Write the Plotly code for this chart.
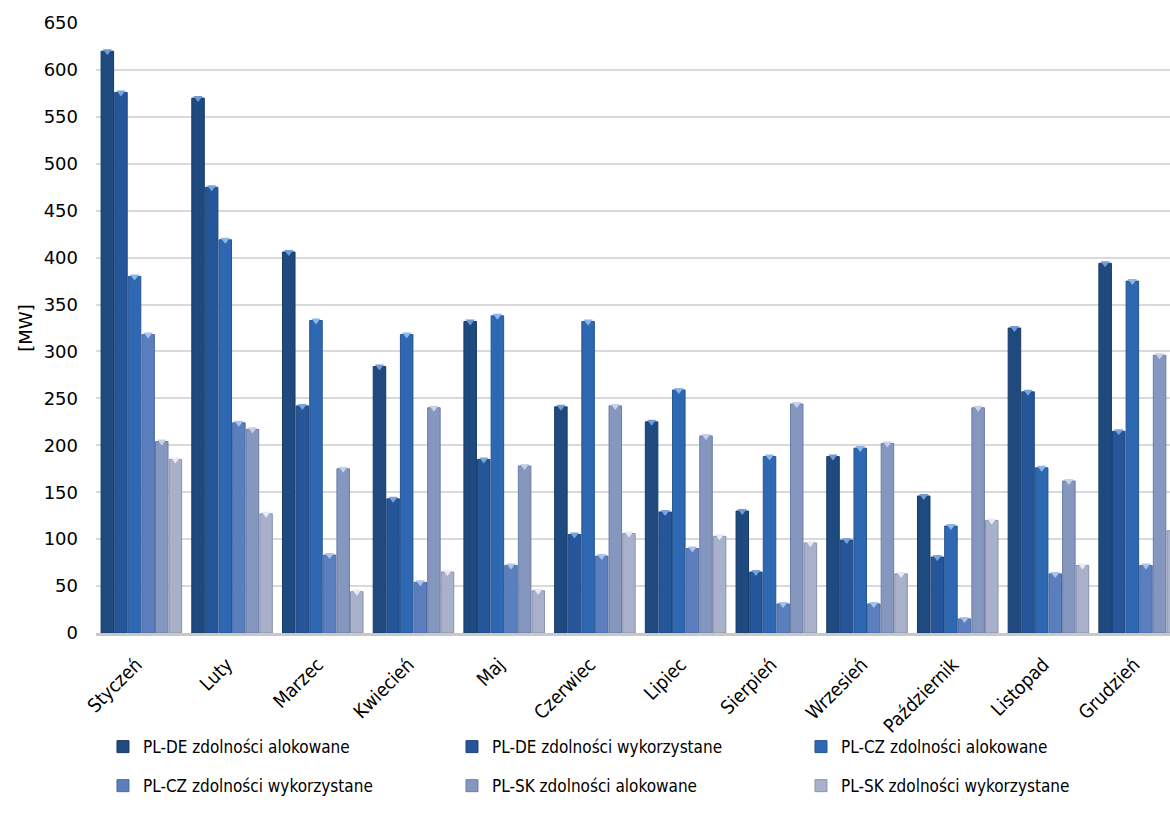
import plotly.graph_objects as go

months = ["Styczeń", "Luty", "Marzec", "Kwiecień", "Maj", "Czerwiec",
          "Lipiec", "Sierpień", "Wrzesień", "Październik", "Listopad", "Grudzień"]

series_names = [
    "PL-DE zdolności alokowane",
    "PL-DE zdolności wykorzystane",
    "PL-CZ zdolności alokowane",
    "PL-CZ zdolności wykorzystane",
    "PL-SK zdolności alokowane",
    "PL-SK zdolności wykorzystane",
]

pl_de_alok = [620, 570, 406, 284, 332, 241, 225, 130, 188, 146, 325, 394]
pl_de_wyk = [576, 475, 242, 143, 185, 105, 129, 65, 99, 81, 257, 215]
pl_cz_alok = [380, 419, 333, 318, 338, 332, 259, 188, 197, 114, 176, 375]
pl_cz_wyk = [318, 224, 83, 54, 72, 82, 90, 31, 31, 15, 63, 72]
pl_sk_alok = [204, 217, 175, 240, 178, 242, 210, 244, 202, 240, 162, 296]
pl_sk_wyk = [185, 127, 44, 65, 45, 106, 103, 96, 63, 120, 72, 109]

y_ticks = list(range(0, 651, 50))

series_values = [pl_de_alok, pl_de_wyk, pl_cz_alok, pl_cz_wyk, pl_sk_alok, pl_sk_wyk]
bar_colors = ["#1f4a80", "#25569a", "#2f68b2", "#5b7fbe", "#8596bf", "#a8b1c9"]
edge_colors = ["#173a66", "#1c457d", "#25548f", "#4a6aa3", "#6c7ca3", "#8a93ab"]
cap_colors = ["#6f9ad6", "#78a4de", "#8bb6ea", "#a9c3ea", "#c7d2ea", "#e6ebf5"]

TEXT_FONT = "DejaVu Sans Condensed"
NUM_FONT = "DejaVu Sans"

fig = go.Figure()

# first three series in the upper legend row, the rest in the lower one
for i, (name, vals, col, edge) in enumerate(zip(series_names, series_values, bar_colors, edge_colors)):
    fig.add_trace(go.Bar(
        x=months, y=vals, name=name,
        marker=dict(color=col, line=dict(color=edge, width=1)),
        legend="legend" if i < 3 else "legend2",
    ))

# light bevel caps on top of each bar
for name, vals, cap in zip(series_names, series_values, cap_colors):
    fig.add_trace(go.Scatter(
        x=months, y=vals, mode="markers", showlegend=False, hoverinfo="skip",
        marker=dict(symbol="triangle-down", size=8, color=cap,
                    line=dict(width=0)),
        cliponaxis=False,
    ))

legend_common = dict(
    orientation="h", x=0.0065, xanchor="left", yanchor="middle",
    entrywidth=304, entrywidthmode="pixels",
    font=dict(family=TEXT_FONT, size=17, color="#000000"),
    itemwidth=30, bgcolor="rgba(0,0,0,0)",
)

fig.update_layout(
    width=1170, height=823,
    margin=dict(l=96, r=0, t=23, b=190),
    paper_bgcolor="white", plot_bgcolor="white",
    barmode="group", bargap=0.1, bargroupgap=0.08,
    scattermode="group", scattergap=0.1,
    font=dict(family=TEXT_FONT, size=17, color="#000000"),
    showlegend=True,
    legend=dict(y=-0.187, **legend_common),
    legend2=dict(y=-0.251, **legend_common),
    xaxis=dict(
        type="category", range=[-0.5, 11.34],
        tickangle=-45, showgrid=False,
        showline=True, linecolor="#c8c8c8", linewidth=3,
        ticks="", ticklabelshift=-5, ticklabelstandoff=10,
        tickfont=dict(family=TEXT_FONT, size=19),
    ),
    yaxis=dict(
        range=[0, 650], tickvals=y_ticks,
        showgrid=True, gridcolor="#d9d9d9", gridwidth=2,
        zeroline=False, showline=False, ticks="",
        ticklabelstandoff=17,
        tickfont=dict(family=NUM_FONT, size=18),
        title=dict(text="[MW]", font=dict(family=NUM_FONT, size=18), standoff=6),
    ),
)

fig.write_html("out.html")
